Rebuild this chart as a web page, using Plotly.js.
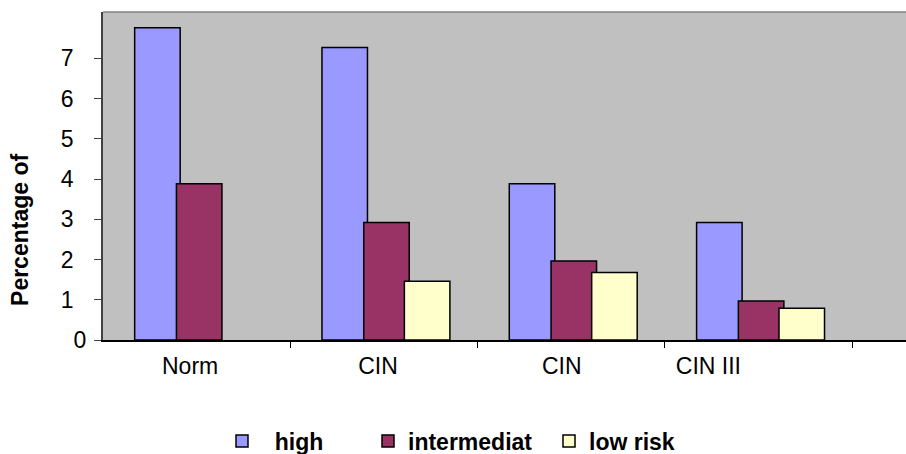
<!DOCTYPE html>
<html>
<head>
<meta charset="utf-8">
<script src="https://cdn.plot.ly/plotly-3.0.1.min.js"></script>
<style>
  html, body { margin: 0; padding: 0; background: #ffffff; }
  #chart { width: 906px; height: 454px; }
</style>
</head>
<body>
<div id="chart"></div>
<script>
// ---- data ----
const categories = ['Norm', 'CIN', 'CIN', 'CIN III'];
const high = [7.76, 7.27, 3.88, 2.92];
const intermediate = [3.88, 2.92, 1.96, 0.97];
const lowRisk = [null, 1.46, 1.68, 0.79];
const seriesNames = ['high', 'intermediat', 'low risk'];
const yTickValues = [0, 1, 2, 3, 4, 5, 6, 7];
const yAxisTitle = 'Percentage of';

// ---- styling ----
const NB = '\u00a0';
const FONT = 'Arial, "Liberation Sans", sans-serif';
const colors = ['#9999FF', '#993366', '#FFFFCC'];
const barWidth = 0.243;
const barOffsets = [-0.331, -0.108, 0.109];
const labelShift = [-0.035, -0.032, -0.051, -0.268];
const xPos = categories.map((_, i) => i);
const legendNames = [NB + NB + seriesNames[0], seriesNames[1], seriesNames[2]];
// legend box left edges, in container fraction of the 906px width
const legendX = [222 / 906, 368 / 906, 549 / 906];

const seriesData = [high, intermediate, lowRisk];
const legendIds = ['legend', 'legend2', 'legend3'];

const traces = seriesData.map((vals, s) => ({
  type: 'bar',
  x: xPos,
  y: vals,
  name: legendNames[s],
  width: barWidth,
  offset: barOffsets[s],
  legend: legendIds[s],
  marker: { color: colors[s], line: { color: '#000000', width: 1.5 } },
  hoverinfo: 'skip'
}));

const yTickText = yTickValues.map(v => v === 0 ? String(v) : String(v) + NB + NB);

function legendDef(i) {
  return {
    xref: 'container', yref: 'container',
    x: legendX[i], xanchor: 'left',
    y: 1 - 441 / 454, yanchor: 'middle',
    orientation: 'h',
    bgcolor: 'rgba(0,0,0,0)',
    borderwidth: 0,
    font: { family: FONT, size: 23, color: '#000000', weight: 'bold' }
  };
}

const layout = {
  width: 906, height: 454,
  margin: { l: 103, r: 0, t: 12, b: 114, pad: 0, autoexpand: false },
  paper_bgcolor: '#ffffff',
  plot_bgcolor: '#C0C0C0',
  showlegend: true,
  legend: legendDef(0),
  legend2: legendDef(1),
  legend3: legendDef(2),
  font: { family: FONT, size: 23, color: '#000000' },
  xaxis: {
    type: 'linear',
    range: [-0.5, 3.787],
    tickmode: 'array',
    tickvals: xPos.map((p, i) => p + labelShift[i]),
    ticktext: categories,
    ticks: '',
    showgrid: false, zeroline: false,
    showline: true, linecolor: '#000000', linewidth: 1.5,
    tickfont: { family: FONT, size: 23, color: '#000000' },
    ticklabelstandoff: 5,
    automargin: false,
    minor: {
      tickmode: 'array',
      tickvals: [0.5, 1.5, 2.5, 3.5],
      ticks: 'outside', ticklen: 6, tickwidth: 1, tickcolor: '#000000',
      showgrid: false
    },
    fixedrange: true
  },
  yaxis: {
    range: [0, 8.15],
    tickmode: 'array',
    tickvals: yTickValues,
    ticktext: yTickText,
    ticks: 'outside', ticklen: 7, tickwidth: 1, tickcolor: '#404040',
    showgrid: false, zeroline: false,
    showline: true, linecolor: '#404040', linewidth: 2,
    tickfont: { family: FONT, size: 23, color: '#000000' },
    ticklabelstandoff: 3,
    automargin: false,
    fixedrange: true
  },
  shapes: [{
    type: 'line', xref: 'paper', yref: 'paper',
    x0: 0, x1: 1, y0: 1, y1: 1,
    line: { color: '#808080', width: 1.5 }
  }],
  annotations: [{
    text: yAxisTitle,
    xref: 'paper', yref: 'paper',
    x: -0.1034, y: 0.3354,
    xanchor: 'center', yanchor: 'middle',
    textangle: -90,
    showarrow: false,
    font: { family: FONT, size: 23, color: '#000000', weight: 'bold' }
  }]
};

Plotly.newPlot('chart', traces, layout, { displayModeBar: false, staticPlot: true });
</script>
</body>
</html>
